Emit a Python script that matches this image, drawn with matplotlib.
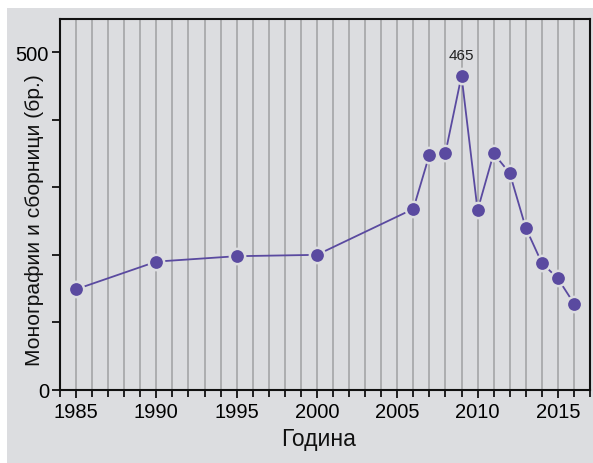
import matplotlib
matplotlib.use("Agg")
import matplotlib.pyplot as plt
from matplotlib.patches import Rectangle
from matplotlib.ticker import MultipleLocator, FixedLocator

years = [1985, 1990, 1995, 2000, 2006, 2007, 2008, 2009, 2010, 2011, 2012, 2013, 2014, 2015, 2016]
counts = [149, 190, 198, 200, 268, 348, 351, 465, 266, 350, 321, 240, 188, 165, 128]
peak_label = "465"
xlabel = "Година"
ylabel = "Монографии и сборници (бр.)"

plt.rcParams['font.family'] = ['Liberation Sans', 'DejaVu Sans']
bg = '#dcdde0'
col = '#5a4aa0'

W, H = 593, 464
fig = plt.figure(figsize=(W/100, H/100), dpi=100)
fig.patch.set_facecolor('white')
fig.add_artist(Rectangle((7/W, 0), 1 - 7/W, 1 - 9/H, transform=fig.transFigure,
                         facecolor=bg, edgecolor='none', zorder=0))

ax = fig.add_axes([60/W, 1 - 391/H, 530/W, 371/H])
ax.set_facecolor(bg)
ax.set_xlim(1984, 2017)
ax.set_ylim(0, 549)

ax.xaxis.set_minor_locator(MultipleLocator(1))
ax.yaxis.set_major_locator(FixedLocator([0, 500]))
ax.yaxis.set_minor_locator(FixedLocator([100, 200, 300, 400]))
ax.set_xticks(range(1985, 2016 + 1, 5))

for yr in range(1985, 2017):
    ax.axvline(yr, color='#a9a9ab', lw=1.3, zorder=1)

ax.plot(years, counts, color=col, lw=1.3, marker='o', ms=11,
        markerfacecolor=col, markeredgecolor=bg, markeredgewidth=1.8, zorder=3)

i = counts.index(max(counts))
ax.annotate(peak_label, (years[i], counts[i]), xytext=(0, 10), textcoords='offset points',
            ha='center', va='bottom', fontsize=11, color='#222222')

for s in ax.spines.values():
    s.set_color('#111111')
    s.set_linewidth(1.5)

ax.tick_params(axis='both', which='both', direction='out', color='#111111', width=1.3)
ax.tick_params(axis='both', which='major', length=6, labelsize=14.5, pad=3)
ax.tick_params(axis='both', which='minor', length=6)
ax.tick_params(axis='x', which='minor', length=5)
ax.tick_params(axis='y', which='major', pad=2)

ax.set_xlabel(xlabel, fontsize=16.5, color='#111111')
ax.xaxis.label.set_va('center')
ax.xaxis.set_label_coords(0.488, (391 - 440) / 371)
ax.set_ylabel(ylabel, fontsize=15.1, color='#111111')
ax.yaxis.label.set_va('center')
ax.yaxis.set_label_coords(-0.049, (391 - 220) / 371)

fig.savefig('out.png', dpi=100, facecolor='white')
